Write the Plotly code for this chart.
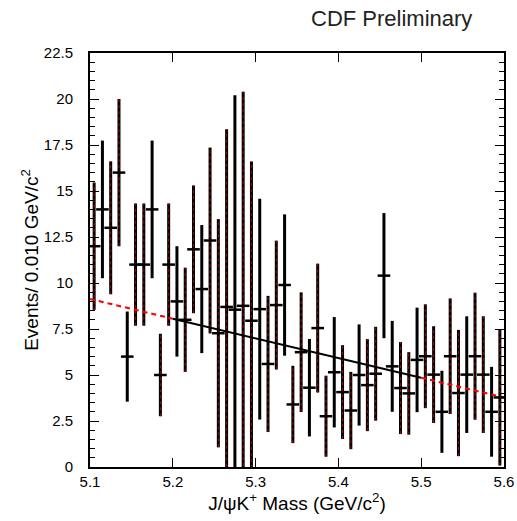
import plotly.graph_objects as go

# ---- data ----
bin_centers = [round(5.105 + 0.01 * i, 3) for i in range(50)]
values = [12, 14, 13, 16, 6, 11, 11, 14, 5, 11,
          9, 8, 11.83, 9.67, 12.31, 7.27, 8.7, 8.55, 8.76, 7.95,
          8.58, 5.6, 8.8, 9.89, 3.4, 6.24, 4.31, 7.55, 2.76, 5.15,
          4.07, 3.07, 5.0, 4.45, 5.07, 10.4, 5.47, 4.29, 4.0, 5.82,
          6.02, 5.02, 3.0, 6.02, 4.02, 5.02, 6.02, 5.02, 3.0, 3.78]
errors = [3.46, 3.74, 3.61, 4.0, 2.45, 3.32, 3.32, 3.74, 2.24, 3.32,
          3.0, 2.83, 3.47, 3.48, 5.05, 6.2, 9.66, 11.65, 11.64, 8.65,
          6.0, 3.7, 3.5, 3.84, 2.1, 3.25, 2.65, 3.5, 2.2, 3.0,
          2.55, 2.1, 2.75, 2.5, 2.55, 3.4, 2.47, 2.5, 2.24, 2.84,
          2.82, 2.63, 2.23, 3.14, 3.43, 3.17, 3.45, 3.17, 2.44, 3.7]
dashed_flag = [1, 0, 1, 1, 0, 1, 1, 0, 1, 1,
               0, 1, 1, 0, 1, 1, 1, 0, 1, 1,
               0, 1, 1, 0, 1, 1, 0, 1, 1, 0,
               1, 1, 0, 1, 1, 0, 0, 1, 1, 0,
               1, 1, 0, 1, 1, 0, 1, 1, 0, 1]
fit_x = [5.1, 5.2, 5.5, 5.6]
fit_y = [9.13, 8.06, 4.85, 3.78]

x_ticks = [5.1, 5.2, 5.3, 5.4, 5.5, 5.6]

# ---- build bar segments ----
def segs(idx):
    xs, ys = [], []
    for i in idx:
        xs += [bin_centers[i], bin_centers[i], None]
        ys += [values[i] - errors[i], values[i] + errors[i], None]
    return xs, ys

all_idx = list(range(len(values)))
dash_idx = [i for i in all_idx if dashed_flag[i]]

fig = go.Figure()

bx, by = segs(all_idx)
fig.add_trace(go.Scatter(x=bx, y=by, mode="lines",
                         line=dict(color="black", width=3), hoverinfo="skip"))
dx, dy = segs(dash_idx)
fig.add_trace(go.Scatter(x=dx, y=dy, mode="lines",
                         line=dict(color="#b00000", width=1, dash="3px,3px"),
                         hoverinfo="skip"))

# fit lines
fig.add_trace(go.Scatter(x=fit_x[0:2], y=fit_y[0:2], mode="lines",
                         line=dict(color="red", width=2, dash="5px,4px")))
fig.add_trace(go.Scatter(x=fit_x[1:3], y=fit_y[1:3], mode="lines",
                         line=dict(color="black", width=2)))
fig.add_trace(go.Scatter(x=fit_x[2:4], y=fit_y[2:4], mode="lines",
                         line=dict(color="red", width=2, dash="5px,4px")))

# central value markers
fig.add_trace(go.Scatter(x=bin_centers, y=values, mode="markers",
                         marker=dict(symbol="line-ew", size=9,
                                     line=dict(color="black", width=2.5))))

font = "Liberation Sans, Arial, sans-serif"
fig.update_layout(
    width=517, height=521,
    margin=dict(l=90, r=13, t=53, b=54, autoexpand=False),
    paper_bgcolor="white", plot_bgcolor="white",
    showlegend=False,
    font=dict(family=font, size=14, color="black"),
    xaxis=dict(range=[5.1, 5.6], tickvals=x_ticks,
               ticktext=[f"{t:.1f}" for t in x_ticks],
               showgrid=False, zeroline=False, automargin=False,
               showline=True, linecolor="black", linewidth=2, mirror="ticks",
               ticks="inside", ticklen=9, tickwidth=1, tickcolor="black",
               tickfont=dict(size=15),
               title=dict(text="J/ψK<sup>+</sup> Mass (GeV/c<sup>2</sup>)",
                          font=dict(size=19), standoff=5)),
    yaxis=dict(range=[0, 22.5], dtick=2.5, tick0=0,
               showgrid=False, zeroline=False, automargin=False,
               showline=True, linecolor="black", linewidth=2, mirror="ticks",
               ticks="inside", ticklen=9, tickwidth=1, tickcolor="black",
               tickfont=dict(size=15), ticklabelstandoff=12,
               minor=dict(dtick=0.5, ticks="inside", ticklen=5,
                          tickcolor="black", tickwidth=1),
               title=dict(text="Events/ 0.010 GeV/c<sup>2</sup>",
                          font=dict(size=19), standoff=0)),
    annotations=[dict(text="CDF Preliminary", x=0.927, y=1.0, xref="paper",
                      yref="paper", xanchor="right", yanchor="middle",
                      yshift=35, showarrow=False,
                      font=dict(size=22, color="#222222", family=font))],
)

fig.write_html("out.html",
               config={"displayModeBar": False},
               post_script="document.body.style.margin='0';"
                           "document.body.style.overflow='hidden';")
